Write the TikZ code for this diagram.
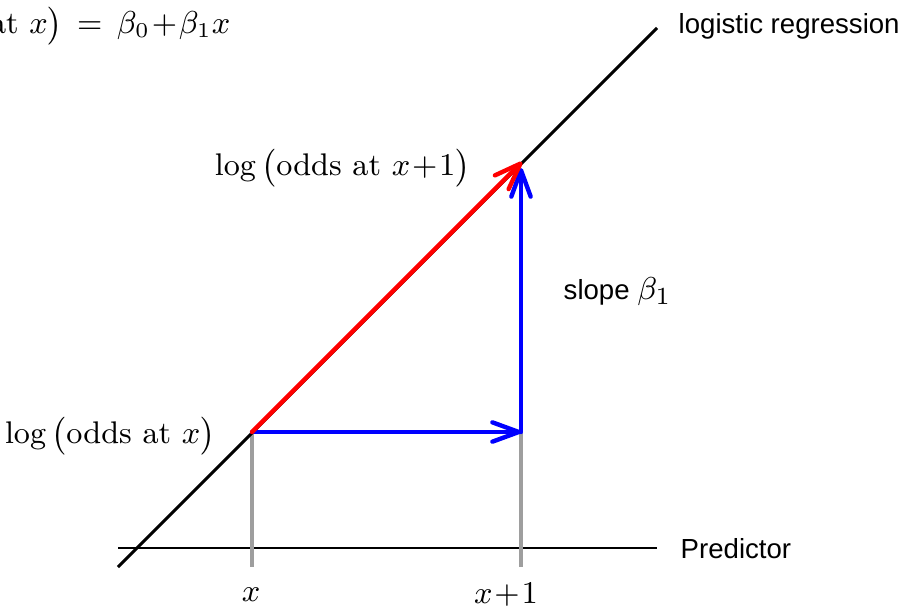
\documentclass[tikz,border=0pt]{standalone}
\usepackage{amsmath}
\usepackage{fontspec}
\newfontfamily\helv{Liberation Sans}
\usetikzlibrary{arrows.meta}
\newcommand{\tplus}{\mkern1mu{+}\mkern1mu}
\begin{document}
\begin{tikzpicture}[x=0.01cm,y=-0.01cm,
  serif/.style={font=\fontsize{8.9}{11}\selectfont, inner sep=0pt},
  sans/.style={font=\helv\fontsize{7.85}{10}\selectfont, inner sep=0pt},
  regline/.style={line width=0.9pt, black},
  guide/.style={line width=0.9pt, black!38},
  arr/.style={line width=1.25pt, line cap=round, -{Straight Barb[length=7.5pt,width=5.5pt,line width=1.25pt,round]}},
]
\useasboundingbox (0,0) rectangle (915,609);
% points
\coordinate (A) at (252,432);
\coordinate (B) at (521,432);
\coordinate (C) at (522,162);
\coordinate (Cb) at (521,168);
\coordinate (L0) at (118,567);
\coordinate (L1) at (657,28);
\coordinate (P0) at (118,548);
\coordinate (P1) at (657,548);
\coordinate (Ab) at (252,567);
\coordinate (Bb) at (521,567);
% axis and guides
\draw[line width=0.8pt] (P0) -- (P1);
\draw[guide] (A) -- (Ab);
\draw[guide] (B) -- (Bb);
\draw[regline] (L0) -- (L1);
% arrows
\draw[arr, blue] (A) -- (B);
\draw[arr, blue] (B) -- (Cb);
\draw[arr, red] (A) -- (C);
% labels
\node[serif, anchor=east] (lx) at (216,436) {$\log\,\bigl(\text{odds at }x\bigr)$};
\node[serif, anchor=east] (lx1) at (471,168) {$\log\,\bigl(\text{odds at }x\tplus1\bigr)$};
\node[serif, anchor=east] (eq) at (231,26) {$\log\,\bigl(\text{odds at }x\bigr)\mkern3mu=\mkern3mu\beta_0\tplus\beta_1x$};
\node[sans, anchor=west] (sl) at (563,292) {slope \fontsize{9.3}{11}\selectfont$\beta_1$};
\node[sans, anchor=west] (lr) at (678,26) {logistic regression};
\node[sans, anchor=west] (pr) at (680,549) {Predictor};
\node[serif] (tx) at (251,595) {$x$};
\node[serif] (tx1) at (506,595) {$x\tplus1$};
\end{tikzpicture}
\end{document}
